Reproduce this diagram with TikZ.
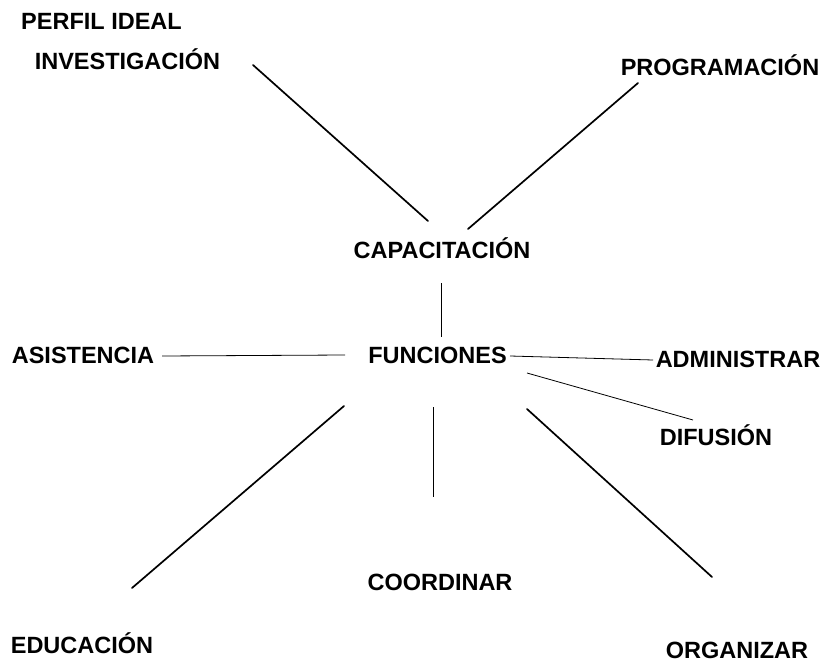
\documentclass[tikz,border=0pt]{standalone}
\usepackage{fontspec}
\setmainfont{Liberation Sans}
\begin{document}
\begin{tikzpicture}[x=1pt,y=-1pt,
  lbl/.style={inner sep=0pt, font=\fontsize{23.5}{26}\selectfont\bfseries, text=black},
  thick line/.style={draw=black, line width=1.7pt, line cap=round},
  thin line/.style={draw=black, line width=0.8pt}]
\useasboundingbox (0,0) rectangle (829,668);
\fill[white] (0,0) rectangle (829,668);
% labels
\node[lbl] (perfil) at (101.5,21) {PERFIL IDEAL};
\node[lbl] (invest) at (127.5,59) {INVESTIGACIÓN};
\node[lbl] (progr) at (720,65) {PROGRAMACIÓN};
\node[lbl] (capac) at (442,248) {CAPACITACIÓN};
\node[lbl] (func) at (437.5,355) {FUNCIONES};
\node[lbl] (asist) at (83,355) {ASISTENCIA};
\node[lbl] (admin) at (738,359) {ADMINISTRAR};
\node[lbl] (difus) at (716,435) {DIFUSIÓN};
\node[lbl] (coord) at (440,582) {COORDINAR};
\node[lbl] (educ) at (82,643) {EDUCACIÓN};
\node[lbl] (organ) at (737,650) {ORGANIZAR};
% connector end points
\coordinate (i1) at (253,65);  \coordinate (i2) at (428,221);
\coordinate (p1) at (468,229); \coordinate (p2) at (638,83);
\coordinate (c1) at (441,283); \coordinate (c2) at (441,337);
\coordinate (a1) at (162,356); \coordinate (a2) at (345,355);
\coordinate (m1) at (510,356); \coordinate (m2) at (653,360);
\coordinate (d1) at (527,373); \coordinate (d2) at (693,420);
\coordinate (e1) at (344,406); \coordinate (e2) at (132,588);
\coordinate (o1) at (433,407); \coordinate (o2) at (433,497);
\coordinate (g1) at (527,409); \coordinate (g2) at (712,577);
% connectors
\draw[thick line] (i1) -- (i2);
\draw[thick line] (p1) -- (p2);
\draw[thin line] (c1) -- (c2);
\draw[thin line] (a1) -- (a2);
\draw[thin line] (m1) -- (m2);
\draw[thin line] (d1) -- (d2);
\draw[thick line] (e1) -- (e2);
\draw[thin line] (o1) -- (o2);
\draw[thick line] (g1) -- (g2);
\end{tikzpicture}
\end{document}
